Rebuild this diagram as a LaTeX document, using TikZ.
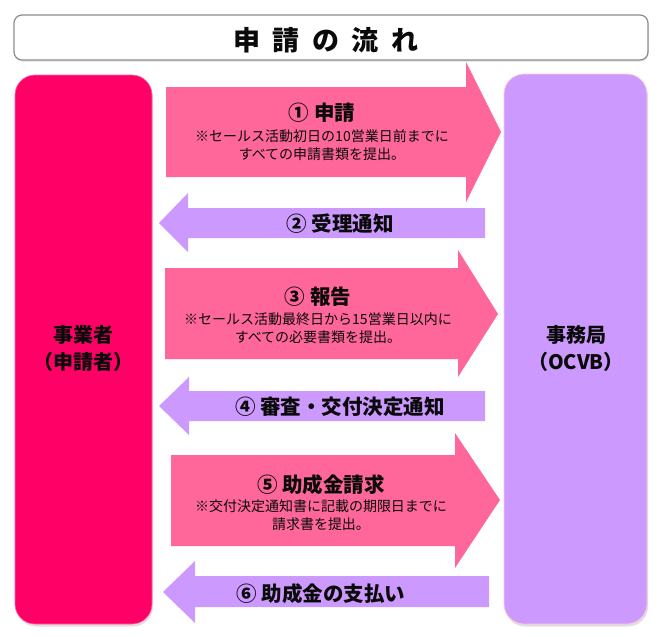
\documentclass[tikz,border=0pt]{standalone}
\usepackage{fontspec}
\newfontfamily\jp{Noto Sans CJK JP}
\usetikzlibrary{shadows}
\definecolor{magbox}{HTML}{FF0066}
\definecolor{pinkarr}{HTML}{FF6699}
\definecolor{purp}{HTML}{CC99FF}
\definecolor{txt}{HTML}{0A0A0A}
\tikzset{
  sidebox/.style={rounded corners=20pt, drop shadow={opacity=0.25, shadow xshift=1pt, shadow yshift=-2.5pt}},
  pinkarrow/.style={fill=pinkarr, draw=none},
  purparrow/.style={fill=purp, draw=none},
  bigtxt/.style={font=\jp\bfseries\fontsize{20.5}{22}\selectfont, text=txt, inner sep=0pt},
  smalltxt/.style={font=\jp\fontsize{14}{18}\selectfont, text=txt, align=center, inner sep=0pt},
  sidetxt/.style={font=\jp\bfseries\fontsize{20}{27}\selectfont, text=txt, align=center, inner sep=0pt},
}
\begin{document}
\begin{tikzpicture}[x=1pt,y=-1pt]
\useasboundingbox (0,0) rectangle (665,637);
% title
\draw[draw=black!45, line width=1.2pt, fill=white, rounded corners=8pt,
  drop shadow={opacity=0.25, shadow xshift=0.5pt, shadow yshift=-1.5pt}]
  (14,15) rectangle (648,60);
\node[font=\jp\bfseries\fontsize{27}{29}\selectfont, text=txt, inner sep=0pt] (title) at (326,40)
  {申\hspace{12.5pt}請\hspace{12.5pt}の\hspace{12.5pt}流\hspace{12.5pt}れ};
% side boxes
\path[sidebox, fill=magbox, draw=magbox!60!white, line width=0.6pt] (15,75) rectangle (152,624);
\path[sidebox, fill=purp, draw=pinkarr!35!white, line width=0.8pt] (504,74) rectangle (647,624);
\node[sidetxt] (app) at (83.5,348) {事業者\\（申請者）};
\node[sidetxt] (ocvb) at (576,348) {事務局\\（OCVB）};
% arrow 1
\path[pinkarrow] (166,87) -- (466,87) -- (466,62) -- (501,132) -- (466,202) -- (466,177) -- (166,177) -- cycle;
\node[bigtxt] (a1t) at (322,113) {① 申請};
\node[smalltxt] (a1s) at (322,145) {※セールス活動初日の10営業日前までに\\すべての申請書類を提出。};
% arrow 2
\path[purparrow] (159,223) -- (188,193) -- (188,208) -- (485,208) -- (485,238) -- (188,238) -- (188,252) -- cycle;
\node[bigtxt] (a2t) at (340,224) {② 受理通知};
% arrow 3
\path[pinkarrow] (165,268) -- (458,268) -- (458,250) -- (498,314) -- (458,377) -- (458,359) -- (165,359) -- cycle;
\node[bigtxt] (a3t) at (318,297) {③ 報告};
\node[smalltxt] (a3s) at (318,328) {※セールス活動最終日から15営業日以内に\\すべての必要書類を提出。};
% arrow 4
\path[purparrow] (159,406) -- (189,377) -- (189,391) -- (485,391) -- (485,421) -- (189,421) -- (189,435) -- cycle;
\node[bigtxt] (a4t) at (340,407) {④ 審査・交付決定通知};
% arrow 5
\path[pinkarrow] (171,455) -- (455,455) -- (455,433) -- (500,500) -- (455,568) -- (455,546) -- (171,546) -- cycle;
\node[bigtxt] (a5t) at (321,485) {⑤ 助成金請求};
\node[smalltxt] (a5s) at (321,515) {※交付決定通知書に記載の期限日までに\\請求書を提出。};
% arrow 6
\path[purparrow] (163,592) -- (195,561) -- (195,576) -- (489,576) -- (489,607) -- (195,607) -- (195,623) -- cycle;
\node[bigtxt] (a6t) at (321,594) {⑥ 助成金の支払い};
\end{tikzpicture}
\end{document}
